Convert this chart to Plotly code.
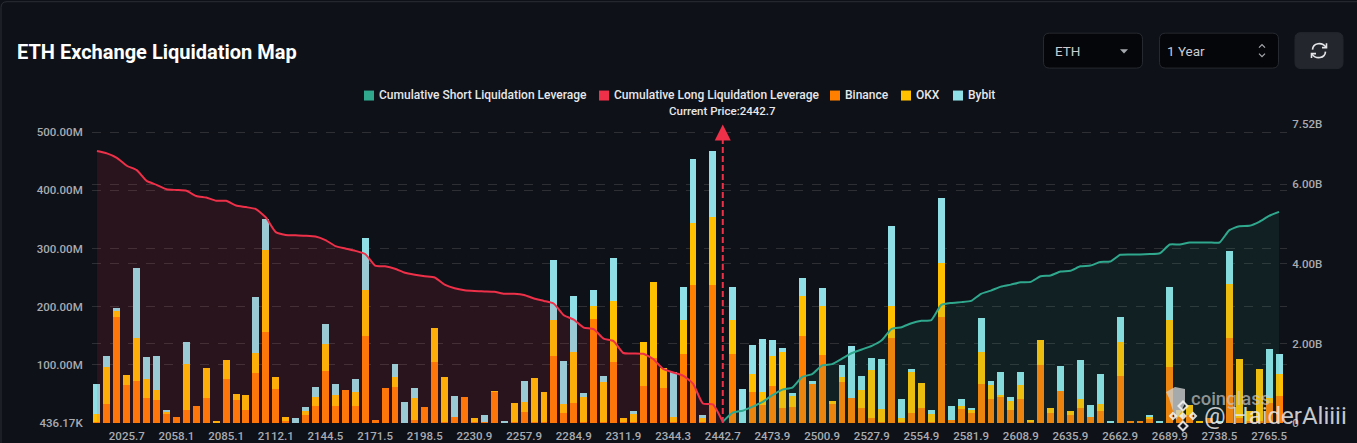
import plotly.graph_objects as go

# Values, in millions, one entry per price level
binance = [2, 33, 183, 66, 73, 43, 40, 17, 11, 23, 30, 43, 1, 76, 40, 23, 86, 157, 58, 3,
           0, 13, 30, 90, 29, 57, 29, 150, 6, 61, 62, 0, 6, 27, 105, 1, 10, 45, 1, 2,
           54, 0, 1, 19, 1, 1, 116, 18, 34, 1, 179, 1, 105, 1, 1, 64, 112, 61, 1, 119,
           238, 1, 238, 0, 119, 0, 54, 31, 64, 26, 27, 150, 67, 117, 33, 70, 43, 26, 9, 1,
           146, 1, 18, 26, 1, 183, 6, 24, 18, 67, 42, 45, 22, 41, 1, 99, 18, 55, 13, 26,
           10, 21, 0, 80, 3, 3, 8, 0, 97, 11, 14, 0, 8, 0, 147, 8, 3, 3, 34, 46]
okx = [14, 64, 11, 16, 73, 33, 16, 3, 0, 79, 0, 51, 2, 33, 10, 25, 34, 140, 21, 7,
       0, 7, 14, 46, 19, 0, 25, 79, 0, 0, 17, 0, 37, 0, 59, 78, 0, 0, 8, 0,
       1, 0, 34, 17, 77, 52, 62, 15, 88, 43, 22, 69, 105, 8, 16, 76, 131, 34, 9, 58,
       106, 9, 117, 0, 58, 0, 31, 22, 51, 96, 20, 69, 0, 84, 4, 9, 0, 30, 83, 23,
       55, 7, 69, 43, 14, 92, 0, 6, 5, 55, 23, 3, 15, 25, 4, 43, 7, 0, 7, 16,
       0, 12, 0, 59, 0, 0, 3, 0, 80, 11, 17, 4, 0, 0, 92, 102, 18, 90, 9, 38]
bybit = [51, 19, 3, 0, 120, 38, 59, 3, 0, 38, 0, 0, 0, 0, 0, 0, 97, 53, 0, 0,
         8, 7, 18, 35, 19, 0, 22, 89, 0, 0, 22, 36, 18, 0, 0, 0, 37, 0, 0, 11,
         0, 2, 0, 36, 0, 0, 102, 73, 97, 7, 27, 10, 73, 0, 3, 0, 0, 0, 77, 57,
         110, 3, 113, 0, 57, 58, 49, 91, 28, 7, 5, 31, 6, 32, 0, 20, 90, 25, 19, 86,
         137, 34, 6, 0, 7, 112, 23, 11, 3, 59, 8, 40, 7, 22, 0, 0, 0, 43, 0, 66,
         21, 51, 2, 44, 0, 0, 3, 3, 57, 0, 0, 0, 0, 3, 57, 0, 0, 0, 84, 34]

# Cumulative leverage in billions
cum_long = [6.84, 6.78, 6.67, 6.47, 6.36, 6.09, 5.99, 5.88, 5.86, 5.84, 5.71, 5.67, 5.59, 5.59, 5.47, 5.43,
            5.38, 5.17, 4.80, 4.73, 4.72, 4.71, 4.69, 4.60, 4.45, 4.39, 4.33, 4.25, 3.96, 3.94, 3.88, 3.78,
            3.73, 3.69, 3.66, 3.48, 3.39, 3.34, 3.32, 3.31, 3.30, 3.25, 3.25, 3.22, 3.13, 3.07, 3.00, 2.71,
            2.60, 2.40, 2.36, 2.12, 2.06, 1.76, 1.75, 1.74, 1.61, 1.36, 1.27, 1.19, 0.99, 0.49, 0.47, 0.03]
cum_short = [0.03, 0.26, 0.31, 0.41, 0.53, 0.70, 0.84, 0.89, 1.16, 1.23, 1.45, 1.48, 1.62, 1.76, 1.85, 1.94,
             2.08, 2.37, 2.41, 2.51, 2.57, 2.59, 2.97, 3.02, 3.04, 3.07, 3.25, 3.33, 3.43, 3.48, 3.54, 3.55,
             3.69, 3.71, 3.81, 3.83, 3.94, 3.96, 4.05, 4.06, 4.23, 4.24, 4.24, 4.25, 4.27, 4.49, 4.49, 4.54,
             4.54, 4.54, 4.54, 4.85, 4.95, 4.96, 5.06, 5.21, 5.31]

price_labels = ['2025.7', '2058.1', '2085.1', '2112.1', '2144.5', '2171.5', '2198.5', '2230.9',
                '2257.9', '2284.9', '2311.9', '2344.3', '2442.7', '2473.9', '2500.9', '2527.9',
                '2554.9', '2581.9', '2608.9', '2635.9', '2662.9', '2689.9', '2738.5', '2765.5']
left_vals = [0.43617, 100, 200, 300, 400, 500]
left_text = ['436.17K', '100.00M', '200.00M', '300.00M', '400.00M', '500.00M']
right_vals = [0, 2, 4, 6, 7.52]
right_text = ['0', '2.00B', '4.00B', '6.00B', '7.52B']

current_idx = 63
BG = '#0e1118'
RED = '#ee3048'
GREEN = '#2fa88e'
ORANGE = '#ff8000'
YELLOW = '#ffc000'
BLUE = '#8fe0e6'
TICK = '#a9abb0'

# plot area in page pixels
L, R, T, B = 92, 1287, 123.5, 423


def px(x):
    return (x - L) / (R - L)


def py(y):
    return (B - y) / (B - T)


x_all = list(range(len(binance)))

fig = go.Figure()
fig.add_trace(go.Bar(name='Binance', x=x_all, y=binance, marker=dict(color=ORANGE, line_width=0)))
fig.add_trace(go.Bar(name='OKX', x=x_all, y=okx, marker=dict(color=YELLOW, line_width=0)))
fig.add_trace(go.Bar(name='Bybit', x=x_all, y=bybit, marker=dict(color=BLUE, line_width=0)))
fig.add_trace(go.Scatter(name='Cumulative Long Liquidation Leverage', x=x_all[:len(cum_long)], y=cum_long,
                         yaxis='y2', mode='lines', line=dict(color=RED, width=2, shape='spline', smoothing=0.5),
                         fill='tozeroy', fillcolor='rgba(238,48,72,0.12)'))
fig.add_trace(go.Scatter(name='Cumulative Short Liquidation Leverage', x=x_all[current_idx:], y=cum_short,
                         yaxis='y2', mode='lines', line=dict(color=GREEN, width=2, shape='spline', smoothing=0.5),
                         fill='tozeroy', fillcolor='rgba(47,168,142,0.10)'))

grid = 'rgba(255,255,255,0.13)'
tick_font = dict(family='Roboto', size=11.5, color=TICK, weight=500)
fig.update_layout(
    width=1357, height=443, autosize=False,
    margin=dict(l=L, r=1357 - R, t=T, b=443 - B, pad=0),
    paper_bgcolor=BG, plot_bgcolor=BG,
    barmode='stack', bargap=0.3, showlegend=False,
    font=dict(family='Roboto', color=TICK, size=11),
    xaxis=dict(range=[-0.5, 119.8], tickvals=x_all[3::5], ticktext=price_labels, showgrid=False, zeroline=False,
               automargin=False, ticks='outside', ticklen=2, tickcolor='rgba(0,0,0,0)', tickangle=0,
               tickfont=tick_font),
    yaxis=dict(range=[0, 514.2], tickvals=left_vals, ticktext=left_text, gridcolor=grid, griddash='dash',
               automargin=False, gridwidth=1, zeroline=False, ticks='outside', ticklen=6, tickcolor='rgba(0,0,0,0)',
               tickfont=tick_font),
    yaxis2=dict(range=[0, 7.52], overlaying='y', side='right', tickvals=right_vals, ticktext=right_text,
                automargin=False, gridcolor=grid, griddash='dash', gridwidth=1, zeroline=False, ticks='outside',
                ticklen=2, tickcolor='rgba(0,0,0,0)', tickfont=tick_font),
)


def label(x, y, text, size=12, color='#e6e7ea', weight=500, anchor='left', family='Roboto', opacity=1):
    fig.add_annotation(xref='paper', yref='paper', x=px(x), y=py(y), text=text, showarrow=False,
                       xanchor=anchor, yanchor='middle', opacity=opacity, borderpad=0, borderwidth=0,
                       font=dict(family=family, size=size, color=color, weight=weight))


def box(x0, y0, x1, y1, fill, line=None, r=6):
    a0, a1, b0, b1 = px(x0), px(x1), py(y0), py(y1)
    rx, ry = r / (R - L), r / (B - T)
    path = (f'M {a0 + rx} {b0} L {a1 - rx} {b0} Q {a1} {b0} {a1} {b0 - ry} L {a1} {b1 + ry} Q {a1} {b1} {a1 - rx} {b1} '
            f'L {a0 + rx} {b1} Q {a0} {b1} {a0} {b1 + ry} L {a0} {b0 - ry} Q {a0} {b0} {a0 + rx} {b0} Z')
    fig.add_shape(type='path', xref='paper', yref='paper', path=path, fillcolor=fill,
                  line=dict(color=line or fill, width=1))


def poly(points, fill=None, line=None, width=1.5, close=True):
    path = 'M ' + ' L '.join(f'{px(a)} {py(b)}' for a, b in points) + (' Z' if close else '')
    fig.add_shape(type='path', xref='paper', yref='paper', path=path, fillcolor=fill or 'rgba(0,0,0,0)',
                  line=dict(color=line or 'rgba(0,0,0,0)', width=width))


def curve(p0, c1, c2, p1, color, width=1.6):
    path = (f'M {px(p0[0])} {py(p0[1])} C {px(c1[0])} {py(c1[1])} {px(c2[0])} {py(c2[1])} '
            f'{px(p1[0])} {py(p1[1])}')
    fig.add_shape(type='path', xref='paper', yref='paper', path=path, line=dict(color=color, width=width))


# card edge
fig.add_shape(type='path', xref='paper', yref='paper', line=dict(color='#2b2e35', width=1),
              path=f'M {px(1)} {py(443)} L {px(1)} {py(7)} Q {px(1)} {py(1)} {px(7)} {py(1)} L {px(1357)} {py(1)}')

# header
label(17, 51, 'ETH Exchange Liquidation Map', size=20, color='#ffffff', weight=700)
box(1043.5, 32.5, 1142.5, 67.5, '#050609', '#26292f')
label(1055, 50, 'ETH', size=13.5, color='#c9ccd2', weight=400)
poly([(1120, 48.5), (1128, 48.5), (1124, 53)], fill='#a6a9af')
box(1159.5, 32.5, 1278.5, 67.5, '#050609', '#26292f')
label(1167, 50, '1 Year', size=13.5, color='#c9ccd2', weight=400)
poly([(1259, 47), (1262, 44), (1265, 47)], line='#a6a9af', close=False, width=1.2)
poly([(1259, 53), (1262, 56), (1265, 53)], line='#a6a9af', close=False, width=1.2)
box(1295, 32, 1343, 68, '#23262d')
# refresh icon
curve((1312.5, 49), (1313, 42), (1322, 41), (1326, 46.5), '#e4e5e8')
poly([(1326.5, 42.5), (1326.5, 47), (1322, 47)], line='#e4e5e8', close=False, width=1.6)
curve((1325.5, 51), (1325, 58), (1316, 59), (1312, 53.5), '#e4e5e8')
poly([(1311.5, 57.5), (1311.5, 53), (1316, 53)], line='#e4e5e8', close=False, width=1.6)

# legend row
legend_items = [('Cumulative Short Liquidation Leverage', GREEN, 364),
                ('Cumulative Long Liquidation Leverage', RED, 599),
                ('Binance', ORANGE, 830), ('OKX', YELLOW, 901), ('Bybit', BLUE, 953)]
for name, color, x0 in legend_items:
    fig.add_shape(type='rect', xref='paper', yref='paper', x0=px(x0), x1=px(x0 + 10), y0=py(90), y1=py(100),
                  fillcolor=color, line_width=0)
    label(x0 + 15, 94.5, name, size=12, color='#e6e7ea', weight=500)
label(722.5, 110.5, 'Current Price:2442.7', size=11.5, color='#e6e7ea', weight=500, anchor='center')

# current price marker
fig.add_shape(type='line', xref='x', yref='paper', x0=current_idx, x1=current_idx, y0=0, y1=py(134),
              line=dict(color=RED, width=2, dash='6px,3px'))
fig.add_annotation(xref='x', yref='paper', x=current_idx, y=py(124), ax=0, ay=15, text='', showarrow=True,
                   arrowhead=2, arrowsize=1.6, arrowwidth=2, arrowcolor=RED)

# watermark
poly([(1166, 392), (1175, 387), (1185, 389), (1185, 403), (1181, 412), (1176, 420), (1172, 408), (1169, 398)],
     fill='rgba(205,205,205,0.8)')
label(1191, 399, 'coinglass', size=18.5, color='rgba(200,200,200,0.7)', weight=500)
for cx, cy, r in [(1183, 406, 4.5), (1183, 426, 4.5), (1173, 416, 3), (1193, 416, 3)]:
    poly([(cx - r, cy), (cx, cy - r), (cx + r, cy), (cx, cy + r)], line='rgba(240,240,240,0.9)', width=2)
poly([(1183, 412), (1187, 416), (1183, 420), (1179, 416)], fill='rgba(240,240,240,0.9)')
label(1204, 416, '@ HaiderAliiii', size=24, color='rgba(235,235,235,0.85)', weight=400)

fig.write_html('out.html', config={'displayModeBar': False},
               post_script="document.body.style.margin='0';document.body.style.overflow='hidden';")
